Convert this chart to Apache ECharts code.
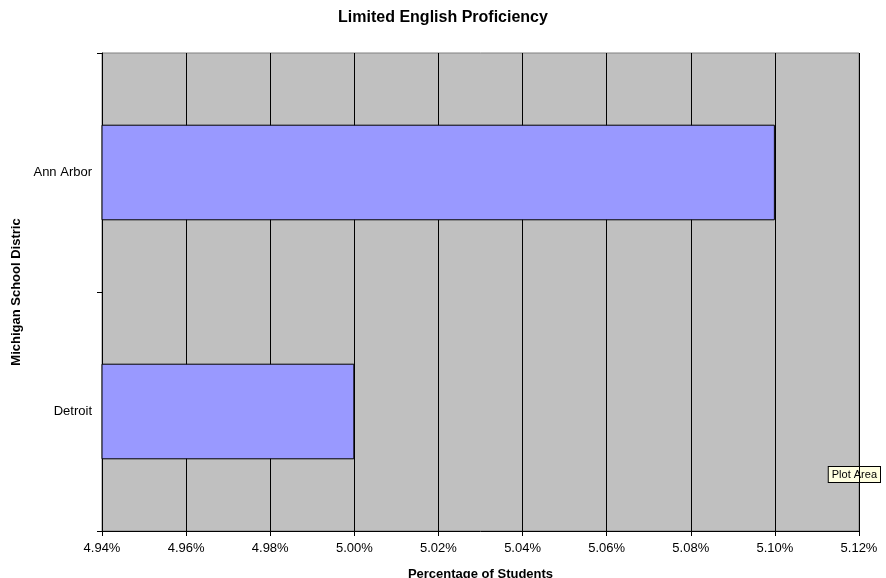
<!DOCTYPE html>
<html>
<head>
<meta charset="utf-8">
<script src="https://cdn.jsdelivr.net/npm/echarts@6/dist/echarts.min.js"></script>
<style>
  html, body { margin: 0; padding: 0; background: #fff; }
  #chart { width: 886px; height: 578px; }
</style>
</head>
<body>
<div id="chart"></div>
<script>
// districts, bottom to top
var districts = ['Detroit', 'Ann Arbor'];
// percentage of students with limited english proficiency
var lepPercent = [5.00, 5.10];
var axisMin = 4.94;
var axisMax = 5.12;
var axisStep = 0.02;

var chart = echarts.init(document.getElementById('chart'));
var font = 'Liberation Sans, Arial, sans-serif';

chart.setOption({
    animation: false,
    title: {
        text: 'Limited English Proficiency',
        left: 'center',
        top: 5,
        textStyle: { fontFamily: font, fontSize: 16, fontWeight: 'bold', color: '#000' }
    },
    grid: {
        left: 102,
        right: 27,
        top: 53,
        bottom: 47,
        outerBoundsMode: 'none',
        containLabel: false,
        show: true,
        backgroundColor: '#C0C0C0',
        borderColor: '#808080',
        borderWidth: 1
    },
    xAxis: {
        type: 'value',
        min: axisMin,
        max: axisMax,
        interval: axisStep,
        name: 'Percentage of Students',
        nameLocation: 'middle',
        nameGap: 37,
        nameTextStyle: { fontFamily: font, fontSize: 13, fontWeight: 'bold', color: '#000' },
        axisLine: { show: true, lineStyle: { color: '#000', width: 1 } },
        axisTick: { show: true, length: 5, lineStyle: { color: '#000' } },
        axisLabel: {
            margin: 11,
            fontFamily: font,
            fontSize: 13,
            color: '#000',
            formatter: function (v) { return v.toFixed(2) + '%'; }
        },
        splitLine: { show: true, lineStyle: { color: '#000', width: 1 } }
    },
    yAxis: {
        type: 'category',
        data: districts,
        name: 'Michigan School Distric',
        nameLocation: 'middle',
        nameGap: 74,
        nameTextStyle: { fontFamily: font, fontSize: 13, fontWeight: 'bold', color: '#000' },
        axisLine: { show: true, lineStyle: { color: '#000', width: 1 } },
        axisTick: { show: true, length: 5, alignWithLabel: false, lineStyle: { color: '#000' } },
        axisLabel: { margin: 10, fontFamily: font, fontSize: 13, color: '#000' },
        splitLine: { show: false }
    },
    series: [{
        type: 'bar',
        data: lepPercent,
        barCategoryGap: '60%',
        itemStyle: { color: '#9999FF', borderColor: '#000', borderWidth: 1 }
    }],
    graphic: [{
        type: 'text',
        right: 5,
        top: 466,
        style: {
            text: 'Plot Area',
            fontFamily: font,
            fontSize: 11,
            fill: '#000',
            backgroundColor: '#FFFFE1',
            borderColor: '#000',
            borderWidth: 1,
            padding: [2, 3, 2, 3]
        }
    }]
});
</script>
</body>
</html>
